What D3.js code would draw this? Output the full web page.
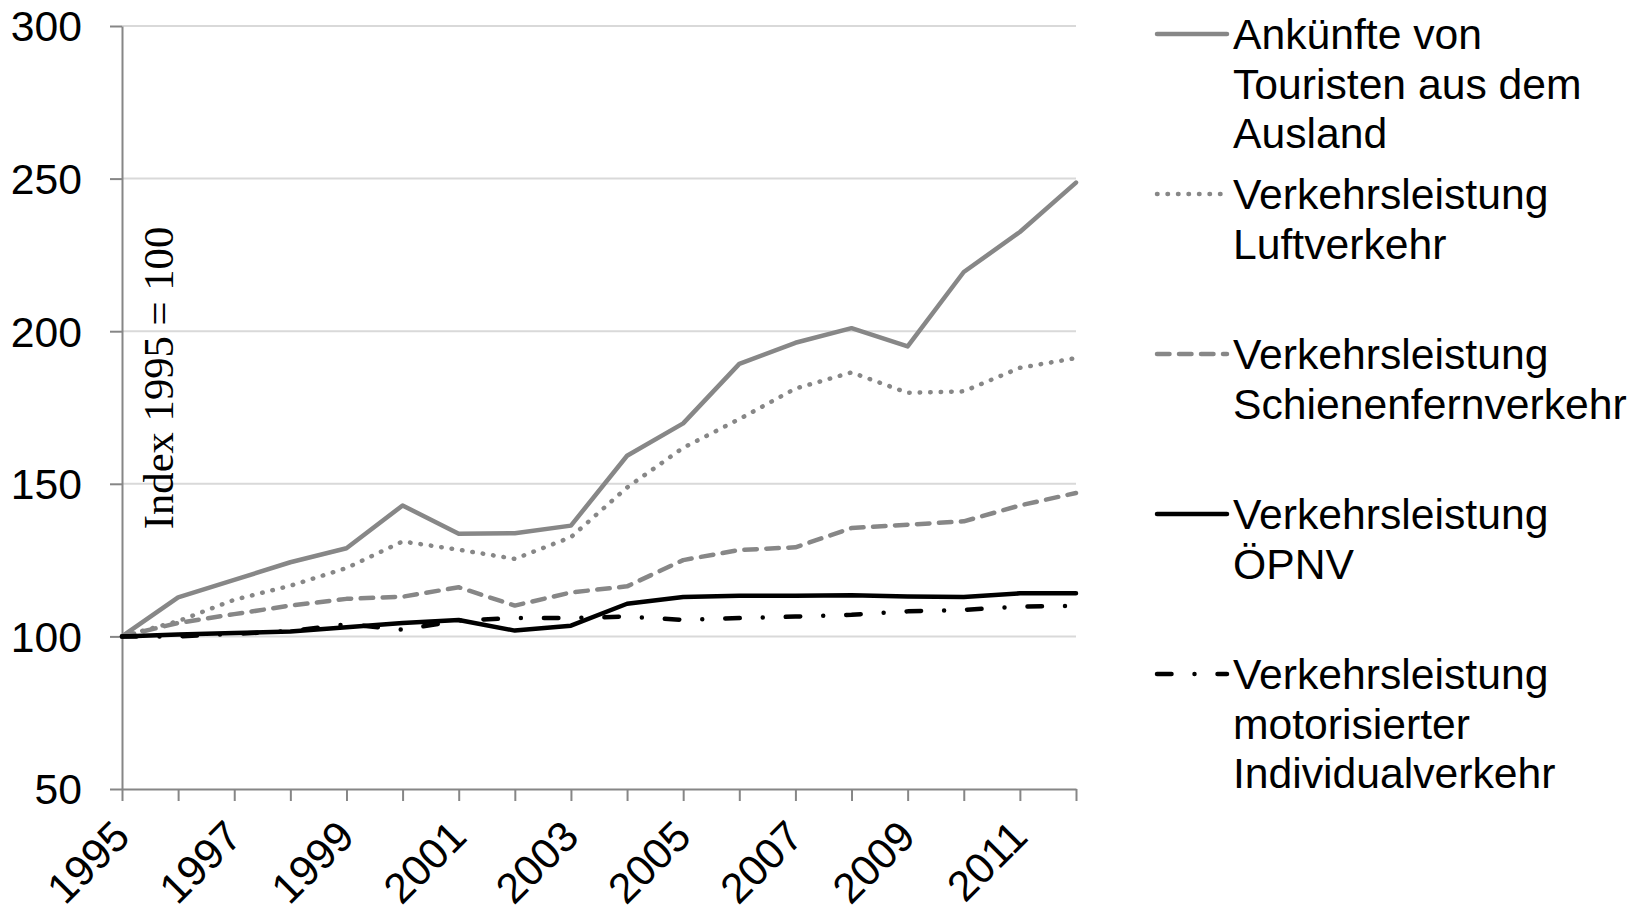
<!DOCTYPE html>
<html>
<head>
<meta charset="utf-8">
<script src="https://cdn.jsdelivr.net/npm/d3@7"></script>
<style>
  html, body { margin: 0; padding: 0; background: #fff; }
  svg { display: block; }
  .tick-label, .legend-label { font-family: "Liberation Sans", Arial, sans-serif; font-size: 42.67px; fill: #000; }
  .y-title { font-family: "Liberation Serif", "Times New Roman", serif; font-size: 42.67px; fill: #000; }
</style>
</head>
<body>
<div id="chart"></div>
<script>
// Index 1995 = 100, years 1995..2012.
const YEARS = [1995, 1996, 1997, 1998, 1999, 2000, 2001, 2002, 2003,
  2004, 2005, 2006, 2007, 2008, 2009, 2010, 2011, 2012];

const ANKUENFTE = [100, 112.8, 118.5, 124.3, 128.9, 142.9, 133.6, 133.8, 136.3,
  159.2, 169.8, 189.3, 196.2, 201, 195, 219.4, 232.5, 248.7];
const LUFT = [100, 105, 112, 116.6, 122.4, 131.1, 128.4, 125.4, 132.5,
  148.8, 161.8, 171.2, 181.2, 186.5, 179.8, 180.3, 188, 191.2];
const SCHIENE = [100, 104.4, 107.3, 110.1, 112.3, 113, 116.1, 110.1, 114.4,
  116.4, 125, 128.3, 129.2, 135.5, 136.6, 137.7, 142.9, 147];
const OEPNV = [100, 100.6, 101.1, 101.6, 103, 104.4, 105.4, 101.9, 103.5,
  110.7, 112.9, 113.3, 113.3, 113.5, 113.1, 112.9, 114.1, 114.1];
const MIV = [100, 100, 100.8, 101.8, 104, 102.2, 105.2, 106, 106,
  106.5, 105.4, 106, 106.5, 107.1, 108.2, 108.7, 109.8, 110];

const Y_TICKS = [50, 100, 150, 200, 250, 300];
const X_LABEL_YEARS = [1995, 1997, 1999, 2001, 2003, 2005, 2007, 2009, 2011];

const SERIES_KEYS = ['ankuenfte', 'luft', 'schiene', 'oepnv', 'miv'];
const SERIES_VALUES = { ankuenfte: ANKUENFTE, luft: LUFT, schiene: SCHIENE, oepnv: OEPNV, miv: MIV };
const SERIES_LABELS = {
  ankuenfte: ['Ankünfte von', 'Touristen aus dem', 'Ausland'],
  luft: ['Verkehrsleistung', 'Luftverkehr'],
  schiene: ['Verkehrsleistung', 'Schienenfernverkehr'],
  oepnv: ['Verkehrsleistung', 'ÖPNV'],
  miv: ['Verkehrsleistung', 'motorisierter', 'Individualverkehr'],
};

// Excel-like line styles, grey and black only.
const GREY = '#878787';
const STYLES = {
  ankuenfte: { stroke: GREY, dash: null },
  luft: { stroke: GREY, dash: '0.5 10' },
  schiene: { stroke: GREY, dash: '12.5 9.5' },
  oepnv: { stroke: '#000', dash: null },
  miv: { stroke: '#000', dash: '14.5 23 0 23' },
};
const LINE_WIDTH = 4.5;

const d3 = window.d3;
const W = 1639, H = 908;
const plot = { left: 122, right: 1076, top: 26, bottom: 789 };

const svg = d3.select('#chart').append('svg').attr('width', W).attr('height', H);

const x = d3.scaleLinear().domain([YEARS[0], YEARS[YEARS.length - 1]]).range([plot.left, plot.right]);
const y = d3.scaleLinear().domain([50, 300]).range([plot.bottom, plot.top]);

// gridlines (the 50 line is the x axis itself)
svg.append('g')
  .selectAll('line')
  .data(Y_TICKS.filter((t) => t > 50))
  .join('line')
  .attr('x1', plot.left).attr('x2', plot.right)
  .attr('y1', (d) => y(d)).attr('y2', (d) => y(d))
  .attr('stroke', '#d9d9d9').attr('stroke-width', 2);

// y axis
const yAxis = svg.append('g')
  .attr('transform', `translate(${plot.left},0)`)
  .call(d3.axisLeft(y).tickValues(Y_TICKS).tickSize(12).tickPadding(28).tickSizeOuter(0));
yAxis.select('.domain').attr('stroke', '#868686').attr('stroke-width', 2);
yAxis.selectAll('.tick line').attr('stroke', '#868686').attr('stroke-width', 2);
yAxis.selectAll('.tick text').attr('class', 'tick-label').attr('font-size', null).attr('font-family', null)
  .attr('dy', '0.35em');

// x axis: a tick for every year, labels on odd years only
const xAxis = svg.append('g')
  .attr('transform', `translate(0,${plot.bottom})`)
  .call(d3.axisBottom(x).tickValues(YEARS).tickSize(12).tickSizeOuter(0).tickFormat(''));
xAxis.select('.domain').attr('stroke', '#868686').attr('stroke-width', 2);
xAxis.selectAll('.tick line').attr('stroke', '#868686').attr('stroke-width', 2);

// rotated labels, end of the text just right of and below the tick
svg.append('g')
  .selectAll('text')
  .data(X_LABEL_YEARS)
  .join('text')
  .attr('class', 'tick-label')
  .attr('text-anchor', 'end')
  .attr('transform', (d) => `translate(${x(d) + 10},${plot.bottom + 50}) rotate(-45)`)
  .text((d) => d);

// y title sits inside the plot area, as in the original
svg.append('text')
  .attr('class', 'y-title')
  .attr('text-anchor', 'middle')
  .attr('transform', `translate(173,378) rotate(-90)`)
  .text('Index 1995 = 100');

const line = d3.line().x((d, i) => x(YEARS[i])).y((d) => y(d));

SERIES_KEYS.forEach((key) => {
  const st = STYLES[key];
  svg.append('path')
    .datum(SERIES_VALUES[key])
    .attr('fill', 'none')
    .attr('stroke', st.stroke)
    .attr('stroke-width', LINE_WIDTH)
    .attr('stroke-linejoin', 'round')
    .attr('stroke-linecap', 'round')
    .attr('stroke-dasharray', st.dash)
    .attr('d', line);
});

// legend on the right, one block per series
const legend = svg.append('g').attr('transform', 'translate(1155,0)');
const ENTRY_STEP = 160;
const LINE_HEIGHT = 49.5;
SERIES_KEYS.forEach((key, i) => {
  const st = STYLES[key];
  const base = 49 + i * ENTRY_STEP;
  const item = legend.append('g').attr('transform', `translate(0,${base})`);
  item.append('line')
    .attr('x1', 2).attr('x2', 72).attr('y1', -15).attr('y2', -15)
    .attr('stroke', st.stroke)
    .attr('stroke-width', LINE_WIDTH)
    .attr('stroke-linecap', 'round')
    .attr('stroke-dasharray', st.dash);
  item.append('text')
    .attr('class', 'legend-label')
    .attr('x', 78)
    .selectAll('tspan')
    .data(SERIES_LABELS[key])
    .join('tspan')
    .attr('x', 78)
    .attr('y', (d, j) => j * LINE_HEIGHT)
    .text((d) => d);
});
</script>
</body>
</html>
